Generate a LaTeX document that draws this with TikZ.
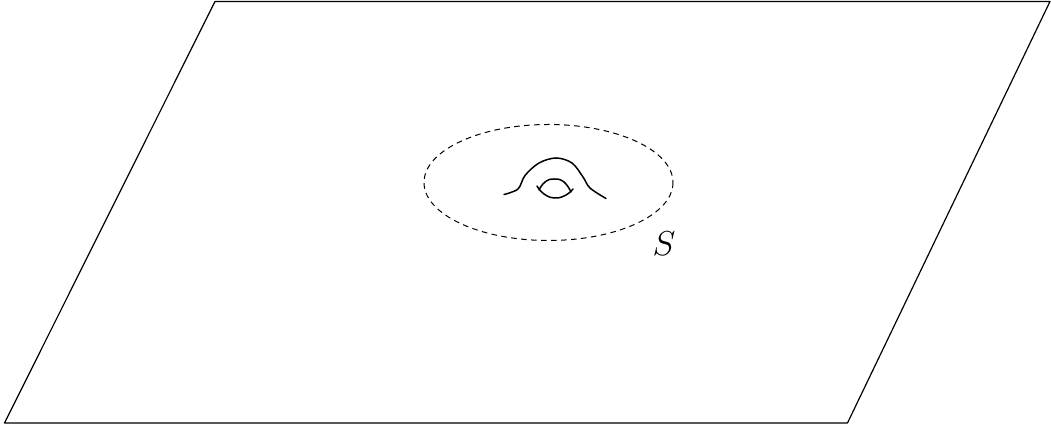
\documentclass[tikz,border=0pt]{standalone}
\begin{document}
\begin{tikzpicture}[x=0.5pt,y=-0.5pt,
  edge/.style={draw=black,line width=0.6pt,line join=round},
  curveline/.style={draw=black,line width=0.75pt,line cap=round},
  dashline/.style={draw=black,line width=0.5pt,dash pattern=on 2.8pt off 2.2pt}]
\useasboundingbox (0,0) rectangle (1051,426);
\draw[edge] (215,1.5) -- (1050,1.5) -- (847.5,423) -- (4.5,423) -- cycle;
\draw[dashline] (548.5,182.5) ellipse [x radius=124.5,y radius=58];
\draw[curveline] plot[smooth,tension=0.55] coordinates {(504,194.5) (518,189) (525,175.5) (539,163) (556,158) (572,163) (583,177) (590,188) (606,198.5)};
\draw[curveline] plot[smooth,tension=0.8] coordinates {(537,186) (544,194) (555,198) (566,195) (573,189)};
\draw[curveline] plot[smooth,tension=0.8] coordinates {(539,190) (545,182) (554,179) (564,182) (571,192)};
\node[font=\fontsize{17}{20}\selectfont,inner sep=0pt] (slabel) at (664,244) {$S$};
\end{tikzpicture}
\end{document}
